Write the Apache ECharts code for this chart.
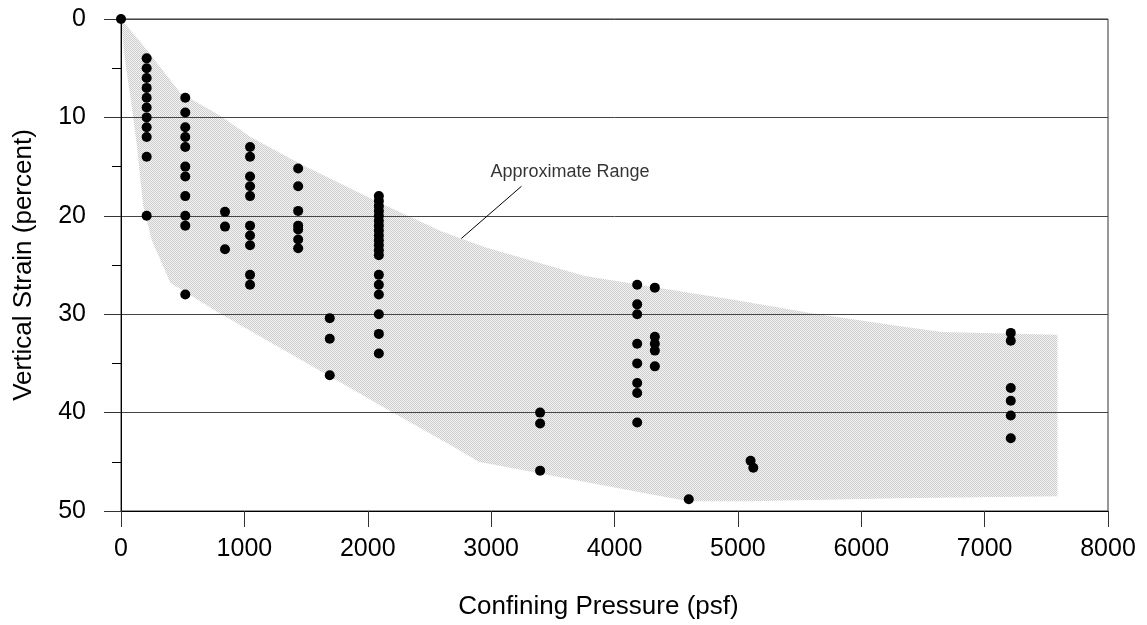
<!DOCTYPE html>
<html>
<head>
<meta charset="utf-8">
<title>Vertical Strain vs Confining Pressure</title>
<script src="https://cdn.jsdelivr.net/npm/echarts@6/dist/echarts.min.js"></script>
<style>
  html, body { margin: 0; padding: 0; background: #fff; }
  #chart { width: 1147px; height: 625px; }
</style>
</head>
<body>
<div id="chart"></div>
<script>
// pressure of each test column (psf)
const pressures = [0, 208, 521, 843, 1046, 1436, 1692, 2090, 3397, 4184, 4327, 4602, 5103, 5125, 7212];
// vertical strain (percent) measured at each pressure
const strains = [
  [0],
  [4, 5, 6, 7, 8, 9, 10, 11, 12, 14, 20],
  [8, 9.5, 11, 12, 13, 15, 16, 18, 20, 21, 28],
  [19.6, 21.1, 23.4],
  [13, 14, 16, 17, 18, 21, 22, 23, 26, 27],
  [15.2, 17, 19.5, 21, 21.4, 22.4, 23.3],
  [30.4, 32.5, 36.2],
  [18, 18.5, 19, 19.5, 20, 20.5, 21, 21.5, 22, 22.5, 23, 23.5, 24, 26, 27, 28, 30, 32, 34],
  [40, 41.1, 45.9],
  [27, 29, 30, 33, 35, 37, 38, 41],
  [27.3, 32.3, 33, 33.7, 35.3],
  [48.8],
  [44.9],
  [45.6],
  [31.9, 32.7, 37.5, 38.8, 40.3, 42.6]
];

// outline of the "approximate range" band (upper edge left->right, then lower edge right->left)
const rangeX = [0, 200, 480, 800, 1050, 1450, 2100, 2600, 2950, 3750, 4300, 5000, 5600, 6300, 6650, 7590,
  7590, 6300, 5100, 4600, 4000, 2900, 2670, 2150, 1720, 800, 400, 320, 250, 180, 130, 80, 30, 0];
const rangeY = [0, 3, 7.5, 9.8, 12, 14.7, 18.7, 21.6, 23.2, 26.1, 27.2, 28.6, 29.9, 31.2, 31.8, 32.1,
  48.5, 48.7, 49, 49, 47.6, 45, 43.3, 39.6, 36.5, 29.9, 26.8, 24.5, 22.5, 19, 13, 8.2, 4, 0];

// annotation
const noteText = "Approximate Range";
const noteAnchor = [2995, 15.55];
const leader = [[3246, 17], [2759, 22.3]];

const xTicks = [0, 1000, 2000, 3000, 4000, 5000, 6000, 7000, 8000];
const yTicks = [0, 10, 20, 30, 40, 50];

const FONT = "Liberation Sans, Arial, sans-serif";

const pointData = [];
pressures.forEach(function (p, i) {
  strains[i].forEach(function (s) { pointData.push([p, s]); });
});

// dotted grey fill like the original stipple
const pat = document.createElement("canvas");
pat.width = 2; pat.height = 2;
const pctx = pat.getContext("2d");
pctx.fillStyle = "#f3f3f3"; pctx.fillRect(0, 0, 2, 2);
pctx.fillStyle = "#cdcdcd"; pctx.fillRect(0, 0, 1, 1); pctx.fillRect(1, 1, 1, 1);

const chart = echarts.init(document.getElementById("chart"), null, { renderer: "canvas" });

const options = {
  animation: false,
  backgroundColor: "#fff",
  grid: {
    left: 121, right: 39, top: 19, bottom: 112,
    show: true, borderColor: "#333", borderWidth: 1
  },
  xAxis: {
    type: "value",
    min: xTicks[0], max: xTicks[xTicks.length - 1], interval: 1000,
    name: "Confining Pressure (psf)",
    nameLocation: "middle", nameGap: 83,
    nameTextStyle: { fontFamily: FONT, fontSize: 26, color: "#000", padding: [0, 32, 0, 0] },
    axisLine: { show: true, onZero: false, lineStyle: { color: "#000", width: 1 } },
    axisTick: { show: true, length: 16, lineStyle: { color: "#333" } },
    axisLabel: {
      margin: 26, fontFamily: FONT, fontSize: 25, color: "#000",
      formatter: function (v) { return String(v); }
    },
    splitLine: { show: false }
  },
  yAxis: {
    type: "value",
    inverse: true,
    min: yTicks[0], max: yTicks[yTicks.length - 1], interval: 10,
    name: "Vertical Strain (percent)",
    nameLocation: "middle", nameGap: 84, nameRotate: 90,
    nameTextStyle: { fontFamily: FONT, fontSize: 26, color: "#000" },
    axisLine: { show: true, onZero: false, lineStyle: { color: "#000", width: 1 } },
    axisTick: { show: true, length: 17, lineStyle: { color: "#333" } },
    minorTick: { show: true, splitNumber: 2, length: 9, lineStyle: { color: "#000" } },
    axisLabel: { margin: 35, fontFamily: FONT, fontSize: 25, color: "#000" },
    splitLine: { show: true, lineStyle: { color: "#444", width: 1 } }
  },
  series: [
    {
      type: "custom",
      z: -1,
      silent: true,
      data: [0],
      renderItem: function (params, api) {
        const pts = rangeX.map(function (x, i) { return api.coord([x, rangeY[i]]); });
        return {
          type: "polygon",
          shape: { points: pts },
          style: { fill: { image: pat, repeat: "repeat" }, stroke: null }
        };
      }
    },
    {
      type: "line",
      data: leader,
      symbol: "none",
      silent: true,
      lineStyle: { color: "#000", width: 1 }
    },
    {
      type: "scatter",
      data: [noteAnchor],
      symbolSize: 0,
      silent: true,
      label: {
        show: true, position: "right", distance: 0,
        formatter: noteText,
        fontFamily: FONT, fontSize: 18, color: "#000"
      }
    },
    {
      type: "scatter",
      data: pointData,
      symbol: "circle",
      symbolSize: 10,
      itemStyle: { color: "#000", opacity: 1 },
      z: 5
    }
  ]
};

chart.setOption(options);
window.addEventListener("resize", function () { chart.resize(); });
</script>
</body>
</html>
